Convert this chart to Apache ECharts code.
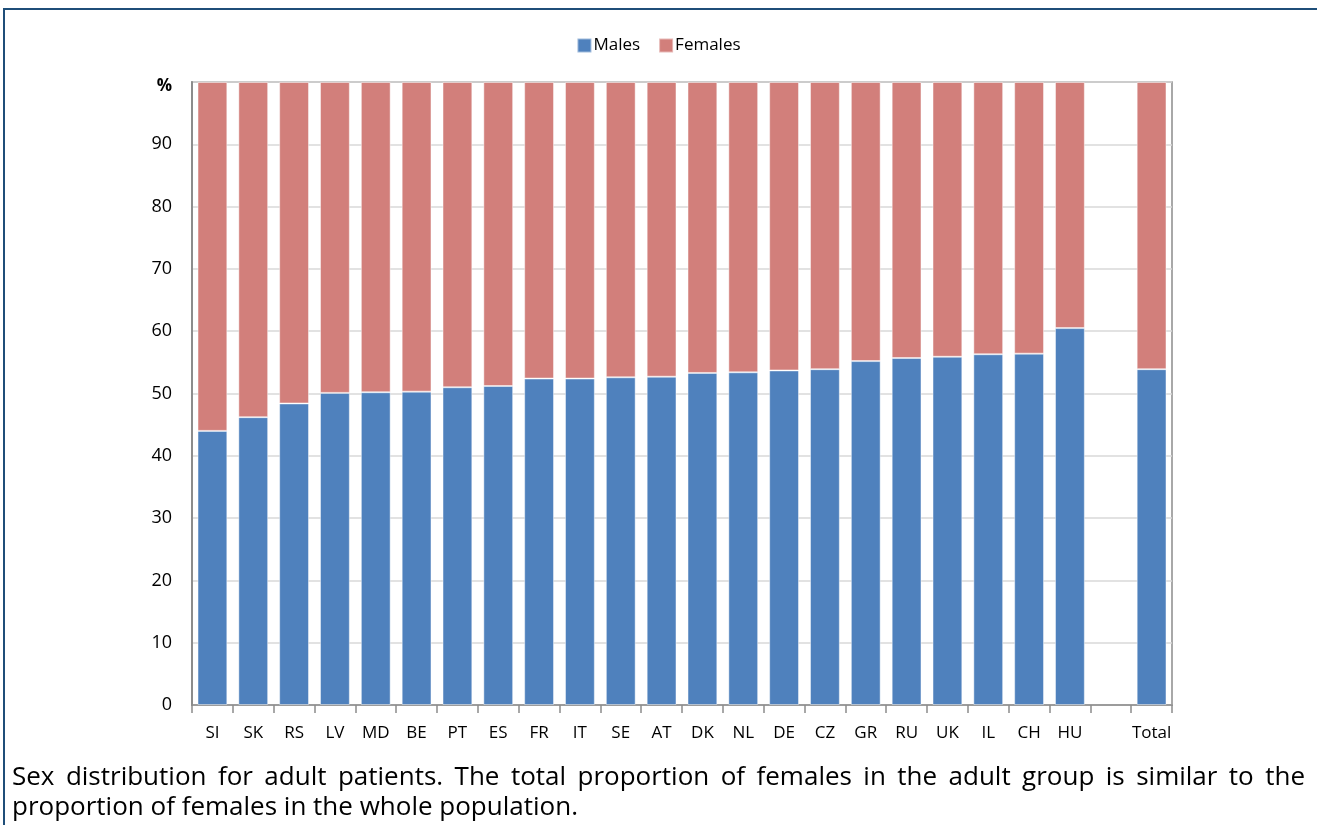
<!DOCTYPE html>
<html>
<head>
<meta charset="utf-8">
<script src="https://cdn.jsdelivr.net/npm/echarts@6/dist/echarts.min.js"></script>
<style>
  html, body { margin: 0; padding: 0; background: #fff; }
  #frame {
    position: absolute; left: 3px; top: 8px; width: 1320px; height: 830px;
    border-left: 2px solid #1F4E79; border-top: 2px solid #1F4E79;
  }
  #chart { position: absolute; left: 0; top: 0; width: 1317px; height: 760px; }
  .caption {
    position: absolute; left: 12px; width: 1293px;
    font-family: "Open Sans", sans-serif; font-size: 26px; color: #000;
    line-height: 30px; white-space: nowrap;
  }
  #cap1 { top: 760px; text-align: justify; text-align-last: justify; }
  #cap2 { top: 790px; }
</style>
</head>
<body>
<div id="frame"></div>
<div id="chart"></div>
<div class="caption" id="cap1">Sex distribution for adult patients. The total proportion of females in the adult group is similar to the</div>
<div class="caption" id="cap2">proportion of females in the whole population.</div>
<script>
// categories, with one empty slot before the total
const countries = ['SI', 'SK', 'RS', 'LV', 'MD', 'BE', 'PT', 'ES', 'FR', 'IT', 'SE', 'AT',
    'DK', 'NL', 'DE', 'CZ', 'GR', 'RU', 'UK', 'IL', 'CH', 'HU', '', 'Total']

// share of males in %
const males = [44.0, 46.2, 48.4, 50.1, 50.2, 50.3, 51.0, 51.2, 52.4, 52.4, 52.6, 52.7,
    53.3, 53.4, 53.7, 53.9, 55.2, 55.7, 55.9, 56.3, 56.4, 60.5, null, 53.9]

// females fill the rest up to 100
const females = males.map(v => v === null ? null : +(100 - v).toFixed(1))

const font = '"Open Sans", sans-serif'

// shrink the caption a little if the first line would not fit
let cap1 = document.getElementById('cap1')
let ctx = document.createElement('canvas').getContext('2d')
ctx.font = '26px "Open Sans"'
let w = ctx.measureText(cap1.textContent).width
if (w > 1285) {
    let size = Math.floor(26 * 1285 / w * 10) / 10
    document.querySelectorAll('.caption').forEach(el => el.style.fontSize = size + 'px')
}

let chart = echarts.init(document.getElementById('chart'))

chart.setOption({
    animation: false,
    textStyle: { fontFamily: font },
    legend: {
        top: 32,
        left: 'center',
        itemWidth: 14,
        itemHeight: 14,
        itemGap: 18,
        icon: 'rect',
        textStyle: { fontSize: 17, color: '#000', fontFamily: font, padding: [0, 0, 0, -3] },
        data: ['Males', 'Females']
    },
    grid: {
        left: 192,
        top: 82,
        width: 980,
        height: 623,
        show: true,
        borderColor: '#8c8c8c',
        borderWidth: 1.5
    },
    xAxis: {
        type: 'category',
        data: countries,
        axisLine: { lineStyle: { color: '#8c8c8c', width: 1.5 } },
        axisTick: { show: true, length: 8, interval: 0, lineStyle: { color: '#8c8c8c', width: 1.5 } },
        axisLabel: { interval: 0, margin: 20, fontSize: 17, color: '#000', fontFamily: font }
    },
    yAxis: {
        type: 'value',
        min: 0,
        max: 100,
        interval: 10,
        axisLine: { show: true, lineStyle: { color: '#8c8c8c', width: 2 } },
        axisTick: { show: false },
        splitLine: { lineStyle: { color: '#d9d9d9', width: 1.5 } },
        axisLabel: {
            margin: 20,
            fontSize: 18,
            color: '#000',
            fontFamily: font,
            formatter: v => v === 100 ? '{pct|%}' : String(v),
            rich: { pct: { fontWeight: 'bold', fontSize: 17, fontFamily: font, padding: [8, 0, 0, 0] } }
        }
    },
    series: [
        {
            name: 'Males',
            type: 'bar',
            stack: 'sex',
            barWidth: '73%',
            itemStyle: { color: '#4F81BD', borderColor: 'rgba(255,255,255,0.45)', borderWidth: 1 },
            data: males
        },
        {
            name: 'Females',
            type: 'bar',
            stack: 'sex',
            barWidth: '73%',
            itemStyle: { color: '#D27F7B', borderColor: 'rgba(255,255,255,0.45)', borderWidth: 1 },
            data: females
        }
    ]
})
</script>
</body>
</html>
